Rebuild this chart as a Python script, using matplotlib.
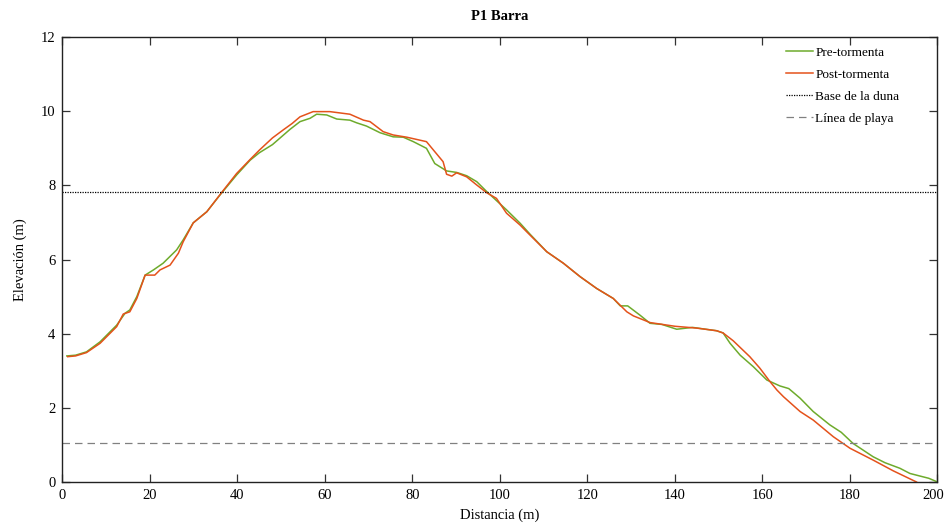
import matplotlib
matplotlib.use("Agg")
import matplotlib.pyplot as plt
import matplotlib.transforms as mtransforms

# perfil P1 Barra: distancia (m) vs elevacion (m)
pre_x = [1, 3, 5.5, 8.6, 12.4, 14.3, 15.4, 17, 18.9, 20.8, 23, 26.1, 27.6, 29.9, 33,
         36, 39.8, 42.9, 45, 48, 52, 54.3, 56.6, 58.1, 60.4, 62.7, 65.7, 67.2, 69.5, 72.6,
         75.6, 77.9, 80.2, 83.2, 85.1, 87.8, 90.1, 92.4, 94.7, 97, 101.5, 104.6, 106.9, 110.7, 114.5,
         118.3, 122.1, 125.9, 127.5, 129.2, 132, 134.3, 137, 140.4, 144, 149.5, 151, 152.6, 154.9, 157.9,
         161, 164, 166, 168.6, 171.6, 175.4, 178, 180.7, 185.3, 188, 191.4, 193.7, 196, 198, 200]
pre_y = [3.40, 3.42, 3.51, 3.78, 4.23, 4.55, 4.64, 5.0, 5.58, 5.72, 5.90, 6.26, 6.53, 6.99, 7.29,
         7.74, 8.28, 8.68, 8.88, 9.10, 9.51, 9.72, 9.81, 9.92, 9.90, 9.79, 9.76, 9.69, 9.60, 9.42,
         9.31, 9.30, 9.18, 9.00, 8.59, 8.39, 8.35, 8.26, 8.10, 7.83, 7.34, 6.98, 6.68, 6.21, 5.90,
         5.54, 5.22, 4.95, 4.75, 4.75, 4.50, 4.28, 4.25, 4.12, 4.17, 4.08, 4.02, 3.74, 3.42, 3.11,
         2.75, 2.59, 2.52, 2.26, 1.90, 1.54, 1.34, 1.04, 0.68, 0.52, 0.37, 0.23, 0.16, 0.10, 0.0]

post_x = [1.2, 3, 5.5, 8.6, 12.4, 13.9, 15.4, 17, 18.9, 21.1, 22.3, 24.6, 26.5, 27.6, 29.9,
          33, 36.8, 39.8, 42.9, 45, 48, 50.5, 52.5, 54.3, 57.3, 61.1, 65.7, 68.8, 70.3, 73.3,
          75.6, 78.7, 83.2, 87, 87.8, 89, 90.1, 92.4, 94.7, 97, 99.2, 101.5, 104.6, 106.1, 110.7,
          114.5, 118.3, 122.1, 125.9, 129, 130.5, 134.3, 140, 145, 149.5, 151, 153.3, 157.1, 159.4, 161.7,
          163.3, 164.8, 168.6, 171.6, 176.2, 180, 185.3, 189.9, 195.2]
post_y = [3.38, 3.40, 3.49, 3.74, 4.19, 4.53, 4.59, 4.95, 5.58, 5.58, 5.72, 5.85, 6.17, 6.48, 6.99,
          7.29, 7.87, 8.32, 8.70, 8.95, 9.28, 9.50, 9.67, 9.85, 9.99, 9.99, 9.92, 9.76, 9.72, 9.45,
          9.36, 9.30, 9.18, 8.64, 8.30, 8.25, 8.34, 8.23, 8.01, 7.80, 7.65, 7.25, 6.93, 6.75, 6.21,
          5.90, 5.54, 5.22, 4.95, 4.59, 4.48, 4.30, 4.20, 4.15, 4.08, 4.02, 3.81, 3.38, 3.07, 2.71,
          2.48, 2.30, 1.90, 1.67, 1.22, 0.91, 0.59, 0.30, 0.0]

base_duna = 7.82
linea_playa = 1.05

plt.rcParams['font.family'] = ['Liberation Serif', 'DejaVu Serif']

fig = plt.figure(figsize=(9.46, 5.30), dpi=100)
ax = fig.add_axes([0.066, 0.0906, 0.925, 0.8394])

ax.plot(pre_x, pre_y, color='#6eab2c', lw=1.1, label='Pre-tormenta')
ax.plot(post_x, post_y, color='#e4521b', lw=1.1, label='Post-tormenta')
ax.axhline(base_duna, color='black', lw=0.9, ls=(0, (1, 1)), label='Base de la duna')
ax.axhline(linea_playa, color='#808080', lw=0.9, ls=(0, (6, 4)), label='Línea de playa')

ax.set_xlim(0, 200)
ax.set_ylim(0, 12)
ax.set_xticks(range(0, 201, 20))
ax.set_yticks(range(0, 13, 2))
ax.tick_params(direction='in', top=True, right=True, length=6, width=0.9,
               labelsize=10.5, pad=5, color='#333333')
for s in ax.spines.values():
    s.set_linewidth(1.0)
    s.set_color('#222222')

# nudge the last x label so it stays inside the figure
last = ax.get_xticklabels()[-1]
last.set_transform(last.get_transform() +
                   mtransforms.ScaledTranslation(-4 / 100, 0, fig.dpi_scale_trans))

ax.set_xlabel('Distancia (m)', fontsize=10.5, labelpad=5)
ax.set_ylabel('Elevación (m)', fontsize=10.5, labelpad=10)
ax.set_title('P1 Barra', fontsize=10.5, fontweight='bold', pad=12)

ax.legend(loc='upper right', frameon=False, fontsize=9.5, handlelength=2.1,
          handletextpad=0.15, labelspacing=0.75, borderaxespad=0.3,
          bbox_to_anchor=(0.967, 1.0))

fig.savefig('out.png', dpi=100)
